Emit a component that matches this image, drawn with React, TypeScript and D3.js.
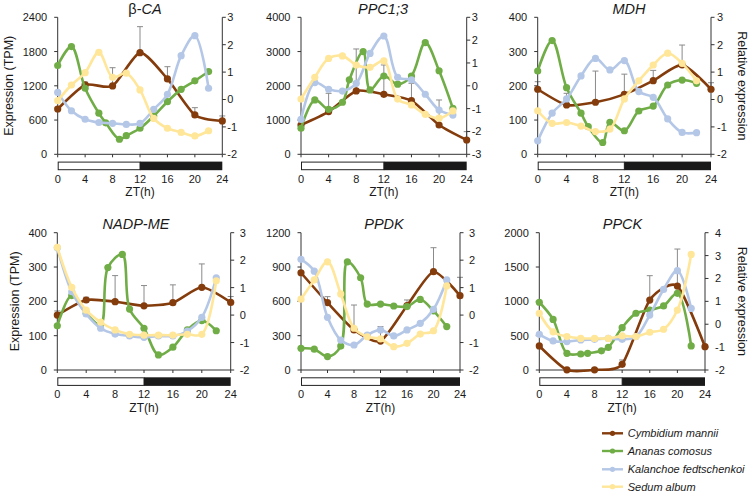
import React from 'react';
import * as d3 from 'd3';

// ---------- data ----------
const brownT = [0, 4, 8, 12, 16, 20, 24];
const greenT = [0, 2, 4, 6, 7, 9, 10, 12, 14, 16, 18, 20, 22];
const otherT = [0, 2, 4, 6, 8, 10, 12, 14, 16, 18, 20, 22];
const xTickValues = [0, 4, 8, 12, 16, 20, 24];

const seriesNames = ['Cymbidium mannii', 'Ananas comosus', 'Kalanchoe fedtschenkoi', 'Sedum album'];
const seriesColors = ['#843c0c', '#70ad47', '#b4c7e7', '#ffe699'];

// β-CA
const caCm = [794, 1215, 1197, 1781, 1320, 689, 584];
const caCmErr = [30, 50, 320, 455, 215, 128, 88];
const caAc = [1.24, 1.93, 0.41, -0.5, -0.85, -1.45, -1.32, -1.05, -0.6, -0.08, 0.37, 0.68, 1.02];
const caKf = [0.26, -0.41, -0.72, -0.84, -0.87, -0.91, -0.87, -0.36, 0.19, 1.6, 2.33, 0.41];
const caSa = [-0.04, 0.53, 0.98, 1.72, 0.81, 0.96, 0.35, -0.69, -1.05, -1.2, -1.33, -1.14];

// PPC1;3
const ppcCm = [856, 1246, 1849, 1752, 1567, 856, 418];
const ppcCmErr = [30, 535, 1226, 856, 506, 730, 244];
const ppcAc = [-1.86, -0.62, -1.03, -0.72, 0.26, 1.5, -0.18, 0.43, 0.07, 0.43, 1.89, 0.66, -0.99];
const ppcKf = [-1.47, 0.14, -0.15, -0.23, 0.11, 1.42, 2.18, 0.37, 0.26, -0.37, -1.06, -1.28];
const ppcSa = [-0.58, 0.37, 1.2, 1.31, 0.91, 0.81, 1.09, -0.58, -0.84, -1.25, -1.42, -1.1];

// MDH
const mdhCm = [190, 144, 152, 175, 215, 261, 190];
const mdhCmErr = [22, 34, 91, 59, 30, 58, 19];
const mdhAc = [1.04, 2.15, 0.43, -0.5, -0.99, -1.57, -0.83, -1.14, -0.42, -0.24, 0.53, 0.71, 0.59];
const mdhKf = [-1.51, -0.5, 0.02, 0.86, 1.5, 1.08, 1.42, 0.29, 0.08, -0.71, -1.2, -1.21];
const mdhSa = [-0.41, -0.87, -0.84, -0.97, -1.17, -1.08, 0.02, 0.68, 1.26, 1.69, 1.32, 0.68];

// NADP-ME
const nadpCm = [160, 204, 199, 187, 196, 241, 197];
const nadpCmErr = [12, 8, 76, 59, 52, 68, 17];
const nadpAc = [-0.39, 0.71, 0.06, -0.35, 1.73, 2.21, 0.22, -0.48, -1.45, -1.17, -0.54, -0.2, -0.57];
const nadpKf = [2.45, 0.85, 0.04, -0.48, -0.69, -0.76, -0.81, -0.76, -0.76, -0.58, -0.08, 1.36];
const nadpSa = [2.47, 1.01, 0.18, -0.26, -0.54, -0.7, -0.73, -0.73, -0.73, -0.7, -0.7, 1.25];

// PPDK
const ppdkCm = [850, 588, 350, 253, 562, 859, 650];
const ppdkCmErr = [15, 53, 218, 126, 50, 210, 160];
const ppdkAc = [-1.21, -1.24, -1.51, -1.13, 1.94, 1.36, 0.4, 0.4, 0.33, 0.31, 0.57, 0.15, -0.42];
const ppdkKf = [2.03, 1.6, -0.08, -0.91, -1.09, -0.73, -0.54, -0.76, -0.54, -0.3, 0.21, 1.28];
const ppdkSa = [0.58, 1.28, 1.94, 0.77, -0.48, -0.79, -0.87, -1.15, -1.03, -0.69, -0.57, 1.06];

// PPCK
const ppckCm = [350, 2, 2, 83, 1019, 1223, 340];
const ppckCmErr = [0, 0, 0, 63, 355, 539, 0];
const ppckAc = [0.96, 0.21, -1.27, -1.3, -1.27, -1.16, -1.01, -0.15, 0.48, 0.62, 0.8, 1.35, -0.95];
const ppckKf = [-0.44, -0.73, -0.76, -0.69, -0.66, -0.62, -0.66, -0.54, 0.4, 1.52, 2.34, 0.69];
const ppckSa = [0.48, -0.33, -0.54, -0.62, -0.62, -0.62, -0.51, -0.54, -0.35, -0.22, 0.62, 3.05];

const FONT = '"Liberation Sans", Arial, Helvetica, sans-serif';

type PanelCfg = {
  title: React.ReactNode;
  titleX: number;
  x0: number; x1: number; yTop: number; yBot: number;
  leftMax: number; leftStep: number;
  rightMin: number; rightMax: number;
  cm: number[]; cmErr: number[]; ac: number[]; kf: number[]; sa: number[];
  leftTitleX?: number; rightTitle?: boolean; rOff: number;
};

const panels: PanelCfg[] = [
  { title: <><tspan>β-</tspan><tspan fontStyle="italic">CA</tspan></>, titleX: 145,
    x0: 57.7, x1: 222.3, yTop: 17.3, yBot: 154.3, leftMax: 2400, leftStep: 600, rightMin: -2, rightMax: 3,
    cm: caCm, cmErr: caCmErr, ac: caAc, kf: caKf, sa: caSa, leftTitleX: 8, rOff: 5 },
  { title: <tspan fontStyle="italic">PPC1;3</tspan>, titleX: 383,
    x0: 301, x1: 466.7, yTop: 17.3, yBot: 154.3, leftMax: 4000, leftStep: 1000, rightMin: -3, rightMax: 3,
    cm: ppcCm, cmErr: ppcCmErr, ac: ppcAc, kf: ppcKf, sa: ppcSa, rOff: 5 },
  { title: <tspan fontStyle="italic">MDH</tspan>, titleX: 629,
    x0: 537.7, x1: 711, yTop: 17.3, yBot: 154.3, leftMax: 400, leftStep: 100, rightMin: -2, rightMax: 3,
    cm: mdhCm, cmErr: mdhCmErr, ac: mdhAc, kf: mdhKf, sa: mdhSa, rightTitle: true, rOff: 6 },
  { title: <tspan fontStyle="italic">NADP-ME</tspan>, titleX: 136,
    x0: 57.3, x1: 230.7, yTop: 232.7, yBot: 370, leftMax: 400, leftStep: 100, rightMin: -2, rightMax: 3,
    cm: nadpCm, cmErr: nadpCmErr, ac: nadpAc, kf: nadpKf, sa: nadpSa, leftTitleX: 14, rOff: 9 },
  { title: <tspan fontStyle="italic">PPDK</tspan>, titleX: 384,
    x0: 301, x1: 460, yTop: 232.7, yBot: 370, leftMax: 1200, leftStep: 300, rightMin: -2, rightMax: 3,
    cm: ppdkCm, cmErr: ppdkCmErr, ac: ppdkAc, kf: ppdkKf, sa: ppdkSa, rOff: 9 },
  { title: <tspan fontStyle="italic">PPCK</tspan>, titleX: 622.5,
    x0: 539.3, x1: 705, yTop: 232.7, yBot: 370, leftMax: 2000, leftStep: 500, rightMin: -2, rightMax: 4,
    cm: ppckCm, cmErr: ppckCmErr, ac: ppckAc, kf: ppckKf, sa: ppckSa, rightTitle: true, rOff: 10 },
];

const AXIS = '#333';
const TXT = '#1a1a1a';

function Panel({ p }: { p: PanelCfg }) {
  const x = d3.scaleLinear().domain([0, 24]).range([p.x0, p.x1]);
  const yL = d3.scaleLinear().domain([0, p.leftMax]).range([p.yBot, p.yTop]);
  const yR = d3.scaleLinear().domain([p.rightMin, p.rightMax]).range([p.yBot, p.yTop]);
  const leftTicks = d3.range(0, p.leftMax + p.leftStep / 2, p.leftStep);
  const rightTicks = d3.range(p.rightMin, p.rightMax + 0.5, 1);

  const mk = (ts: number[], vs: number[], ys: d3.ScaleLinear<number, number>) =>
    ts.map((t, i) => [x(t), ys(vs[i])] as [number, number]);

  const series = [
    { pts: mk(brownT, p.cm, yL), color: seriesColors[0], curve: d3.curveCardinal.tension(0.35) },
    { pts: mk(greenT, p.ac, yR), color: seriesColors[1], curve: d3.curveCatmullRom.alpha(0.5) },
    { pts: mk(otherT, p.kf, yR), color: seriesColors[2], curve: d3.curveCatmullRom.alpha(0.5) },
    { pts: mk(otherT, p.sa, yR), color: seriesColors[3], curve: d3.curveCatmullRom.alpha(0.5) },
  ];

  const midY = (p.yTop + p.yBot) / 2;
  const barTop = p.yBot + 7.8;
  const barH = 7.6;

  return (
    <g>
      <text x={p.titleX} y={p.yTop - 3.6} textAnchor="middle" fontSize={14.5} fill={TXT}>{p.title}</text>

      {brownT.map((t, i) => {
        const e = p.cmErr[i];
        if (!e) return null;
        const xx = x(t);
        const y1 = yL(p.cm[i]);
        const y2 = yL(p.cm[i] + e);
        return (
          <g key={'e' + i} stroke="#8a8a8a" strokeWidth={1}>
            <line x1={xx} x2={xx} y1={y1} y2={y2} />
            <line x1={xx - 3} x2={xx + 3} y1={y2} y2={y2} />
          </g>
        );
      })}

      <g stroke={AXIS} strokeWidth={1} fill="none">
        <line x1={p.x0} x2={p.x0} y1={p.yTop} y2={p.yBot} />
        <line x1={p.x1} x2={p.x1} y1={p.yTop} y2={p.yBot} />
        <line x1={p.x0} x2={p.x1} y1={p.yBot} y2={p.yBot} />
        {leftTicks.map((v) => (
          <line key={'lt' + v} x1={p.x0 - 3.5} x2={p.x0} y1={yL(v)} y2={yL(v)} />
        ))}
        {rightTicks.map((v) => (
          <line key={'rt' + v} x1={p.x1} x2={p.x1 + 3.5} y1={yR(v)} y2={yR(v)} />
        ))}
        {xTickValues.map((v) => (
          <line key={'xt' + v} x1={x(v)} x2={x(v)} y1={p.yBot} y2={p.yBot + 3} />
        ))}
      </g>

      {series.map((s, si) => (
        <g key={'s' + si}>
          <path d={d3.line<[number, number]>().curve(s.curve)(s.pts) || ''} fill="none" stroke={s.color} strokeWidth={2.6} />
          {s.pts.map((pt, j) => (
            <circle key={j} cx={pt[0]} cy={pt[1]} r={3.6} fill={s.color} />
          ))}
        </g>
      ))}

      <g fontSize={11} fill={TXT}>
        {leftTicks.map((v) => (
          <text key={'ll' + v} x={p.x0 - 10.5} y={yL(v)} dy="0.36em" textAnchor="end">{v}</text>
        ))}
        {rightTicks.map((v) => (
          <text key={'rl' + v} x={p.x1 + p.rOff} y={yR(v)} dy="0.36em" textAnchor="start">{v}</text>
        ))}
        {xTickValues.map((v) => (
          <text key={'xl' + v} x={x(v)} y={p.yBot + 28.3} textAnchor="middle">{v}</text>
        ))}
      </g>

      <rect x={x(0) + 0.5} y={barTop} width={x(12) - x(0) - 0.5} height={barH} fill="#fff" stroke="#222" strokeWidth={1} />
      <rect x={x(12)} y={barTop - 0.5} width={x(24) - x(12)} height={barH + 1} fill="#1a1a1a" />

      <text x={(p.x0 + p.x1) / 2} y={p.yBot + 42} textAnchor="middle" fontSize={12} fill={TXT}>ZT(h)</text>

      {p.leftTitleX !== undefined && (
        <text transform={`translate(${p.leftTitleX + 4.5},${midY}) rotate(-90)`} textAnchor="middle" fontSize={12.5} fill={TXT}>
          Expression (TPM)
        </text>
      )}
      {p.rightTitle && (
        <text transform={`translate(${738},${midY}) rotate(90)`} textAnchor="middle" fontSize={12.5} fill={TXT}>
          Relative expression
        </text>
      )}
    </g>
  );
}

function Legend() {
  const x0 = 602, x1 = 623, tx = 627.7;
  const ys = [433.3, 451, 469.3, 486.7];
  return (
    <g>
      {seriesNames.map((n, i) => (
        <g key={n}>
          <line x1={x0} x2={x1} y1={ys[i]} y2={ys[i]} stroke={seriesColors[i]} strokeWidth={2.4} />
          <circle cx={(x0 + x1) / 2} cy={ys[i]} r={2.6} fill={seriesColors[i]} />
          <text x={tx} y={ys[i]} dy="0.36em" fontSize={11} fontStyle="italic" fill={TXT}>{n}</text>
        </g>
      ))}
    </g>
  );
}

export default function App() {
  return (
    <svg width={748} height={493} style={{ position: 'absolute', left: 0, top: 0, background: '#fff' }}
      fontFamily={FONT}>
      <rect width={748} height={493} fill="#fff" />
      {panels.map((p, i) => <Panel key={i} p={p} />)}
      <Legend />
    </svg>
  );
}
